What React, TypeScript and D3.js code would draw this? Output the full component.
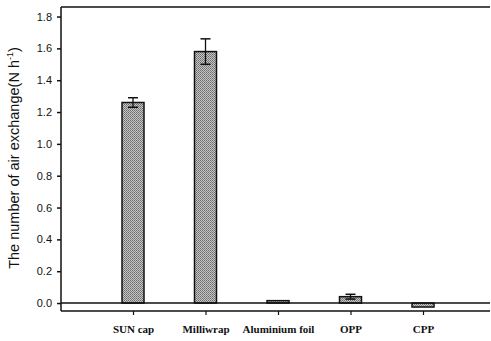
import { useEffect, useRef } from 'react';
import * as d3 from 'd3';

// chart data
const categories = ['SUN cap', 'Milliwrap', 'Aluminium foil', 'OPP', 'CPP'];
const values = [1.26, 1.58, 0.015, 0.04, -0.025];
const errors = [0.03, 0.08, 0, 0.015, 0];
const yTicks = [0, 0.2, 0.4, 0.6, 0.8, 1.0, 1.2, 1.4, 1.6, 1.8];

const W = 491;
const H = 341;

export default function App() {
    const svgRef = useRef<SVGSVGElement>(null);

    useEffect(() => {
        if (!svgRef.current) return;
        const svg = d3.select(svgRef.current);
        svg.selectAll('*').remove();

        const left = 61;
        const right = 490;
        const y = d3.scaleLinear().domain([-0.05, 1.86]).range([311, 7]);
        const x = d3.scalePoint<string>().domain(categories).range([133, 423]);
        const barW = 22;

        // stipple pattern for the bars
        const defs = svg.append('defs');
        const pat = defs
            .append('pattern')
            .attr('id', 'dots')
            .attr('width', 2)
            .attr('height', 2)
            .attr('patternUnits', 'userSpaceOnUse');
        pat.append('rect').attr('width', 2).attr('height', 2).attr('fill', '#c6c6c6');
        pat.append('rect').attr('width', 1).attr('height', 1).attr('fill', '#6a6a6a');
        pat.append('rect').attr('x', 1).attr('y', 1).attr('width', 1).attr('height', 1).attr('fill', '#808080');

        const g = svg.append('g');

        // frame: top line, left axis, bottom line
        g.append('line')
            .attr('x1', left).attr('x2', right)
            .attr('y1', y(1.86)).attr('y2', y(1.86))
            .attr('stroke', '#111').attr('stroke-width', 1.5);
        g.append('line')
            .attr('x1', left).attr('x2', right)
            .attr('y1', y(-0.05)).attr('y2', y(-0.05))
            .attr('stroke', '#111').attr('stroke-width', 1.5);
        g.append('line')
            .attr('x1', left).attr('x2', left)
            .attr('y1', y(1.86)).attr('y2', y(-0.05))
            .attr('stroke', '#111').attr('stroke-width', 1.5);

        // y axis ticks
        const yAxis = d3
            .axisLeft(y)
            .tickValues(yTicks)
            .tickSize(4)
            .tickPadding(5)
            .tickFormat(d3.format('.1f'));
        const ya = g.append('g').attr('transform', `translate(${left},0)`).call(yAxis);
        ya.select('.domain').remove();
        ya.selectAll('line').attr('stroke', '#111').attr('stroke-width', 1.5);
        ya.selectAll('text')
            .attr('font-family', '"Liberation Sans", Arial, sans-serif')
            .attr('font-size', 11)
            .attr('fill', '#111');

        // x axis ticks and labels
        const xAxis = d3.axisBottom(x).tickSize(4).tickPadding(10);
        const xa = g.append('g').attr('transform', `translate(0,${y(-0.05)})`).call(xAxis);
        xa.select('.domain').remove();
        xa.selectAll('line').attr('stroke', '#111').attr('stroke-width', 1.2);
        xa.selectAll('text')
            .attr('font-family', '"Liberation Serif", "Times New Roman", serif')
            .attr('font-weight', 'bold')
            .attr('font-size', 11)
            .attr('fill', '#111');

        // bars
        g.selectAll('.bar')
            .data(values)
            .enter()
            .append('rect')
            .attr('class', 'bar')
            .attr('x', (_, i) => (x(categories[i]) ?? 0) - barW / 2)
            .attr('y', (d) => y(Math.max(d, 0)))
            .attr('width', barW)
            .attr('height', (d) => Math.abs(y(d) - y(0)))
            .attr('fill', 'url(#dots)')
            .attr('stroke', '#111')
            .attr('stroke-width', 1.5);

        // zero line
        g.append('line')
            .attr('x1', left).attr('x2', right)
            .attr('y1', y(0)).attr('y2', y(0))
            .attr('stroke', '#111').attr('stroke-width', 1.5);

        // error bars
        const eb = g.selectAll('.err')
            .data(values.map((v, i) => ({ v, e: errors[i], c: categories[i] })).filter((d) => d.e > 0))
            .enter()
            .append('g')
            .attr('class', 'err');
        eb.append('line')
            .attr('x1', (d) => x(d.c) ?? 0).attr('x2', (d) => x(d.c) ?? 0)
            .attr('y1', (d) => y(d.v - d.e)).attr('y2', (d) => y(d.v + d.e))
            .attr('stroke', '#111').attr('stroke-width', 1.3);
        eb.append('line')
            .attr('x1', (d) => (x(d.c) ?? 0) - 5).attr('x2', (d) => (x(d.c) ?? 0) + 5)
            .attr('y1', (d) => y(d.v + d.e)).attr('y2', (d) => y(d.v + d.e))
            .attr('stroke', '#111').attr('stroke-width', 1.5);
        eb.append('line')
            .attr('x1', (d) => (x(d.c) ?? 0) - 5).attr('x2', (d) => (x(d.c) ?? 0) + 5)
            .attr('y1', (d) => y(d.v - d.e)).attr('y2', (d) => y(d.v - d.e))
            .attr('stroke', '#111').attr('stroke-width', 1.5);

        // y label
        const label = g.append('text')
            .attr('transform', `translate(19,158) rotate(-90)`)
            .attr('text-anchor', 'middle')
            .attr('font-family', '"Liberation Sans", Arial, sans-serif')
            .attr('font-size', 14.5)
            .attr('fill', '#111');
        label.append('tspan').text('The number of air exchange(N h');
        label.append('tspan').attr('dy', -6).attr('font-size', 9).text('-1');
        label.append('tspan').attr('dy', 6).text(')');
    }, []);

    return (
        <svg
            ref={svgRef}
            width={W}
            height={H}
            style={{ position: 'absolute', left: 0, top: 0, background: '#fff' }}
        />
    );
}
